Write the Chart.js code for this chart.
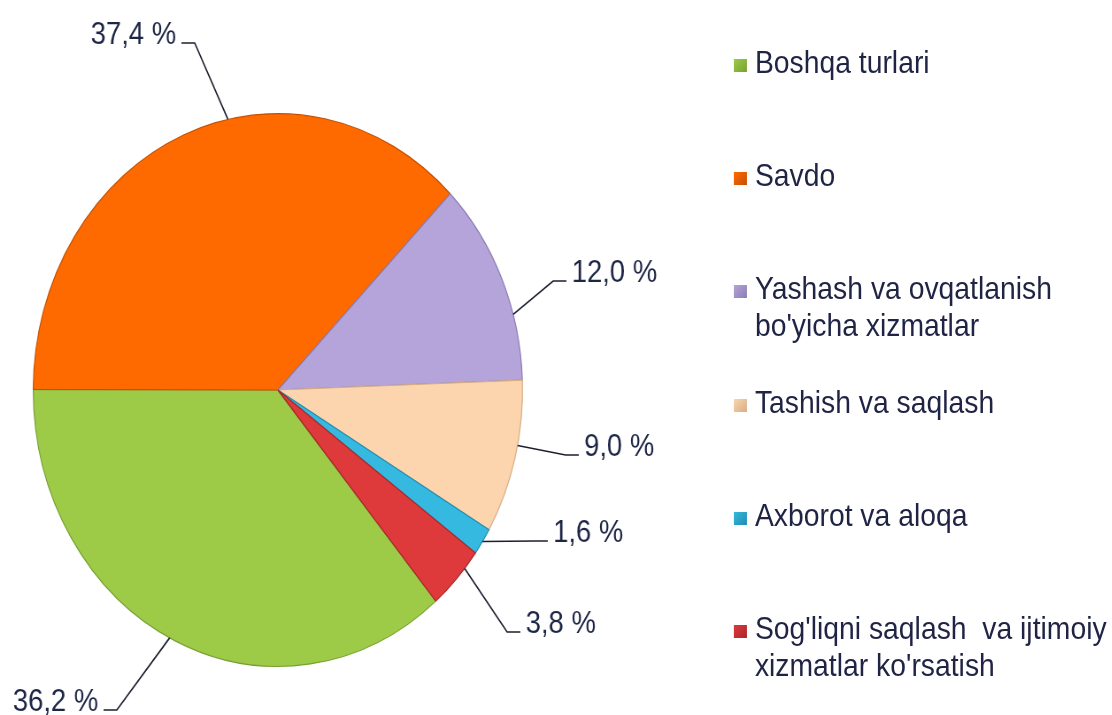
<!DOCTYPE html>
<html>
<head>
<meta charset="utf-8">
<script src="https://cdn.jsdelivr.net/npm/chart.js@4.4.1/dist/chart.umd.min.js"></script>
<style>
  html, body { margin: 0; padding: 0; background: #fff; }
  body { width: 1112px; height: 715px; overflow: hidden; }
  /* the reference is squeezed sideways, so draw wider and compress */
  #wrap {
    position: absolute; left: 0; top: 0;
    width: 1257px; height: 715px;
    transform: scaleX(0.885); transform-origin: 0 0;
  }
  #wrap canvas { position: absolute; left: 0; top: 0; }
  #legend {
    position: absolute; left: 828px; top: 44px;
    font-family: "Liberation Sans", Arial, sans-serif;
    font-size: 32px; line-height: 37px; color: #1f2444;
  }
  .item { position: absolute; left: 0; white-space: pre; }
  .box { position: absolute; left: 1px; top: 15px; width: 15px; height: 13px; }
  .txt { position: absolute; left: 25px; top: 0; }
</style>
</head>
<body>
<div id="wrap">
  <canvas id="chart1"></canvas>
  <div id="legend"></div>
</div>
<script>
var labels = [
  ["Boshqa turlari"],
  ["Savdo"],
  ["Yashash va ovqatlanish", "bo'yicha xizmatlar"],
  ["Tashish va saqlash"],
  ["Axborot va aloqa"],
  ["Sog'liqni saqlash  va ijtimoiy", "xizmatlar ko'rsatish"]
];
var values = [36.2, 37.4, 12.0, 9.0, 1.6, 3.8];

var colors = ['#9dcb48', '#ff6a00', '#b4a4d9', '#fcd5ae', '#36b9e0', '#de3a3c'];
var edges  = ['#78a031', '#c65000', '#8d7db5', '#d6ad85', '#1f8db0', '#a82729'];

// where the leader leaves each slice (fraction of the arc) and where its elbow sits
// relative to the pie centre; side: -1 label to the left, 1 to the right
var leaderAt = [0.51, 0.58, 0.68, 0.42, 0.5, 0.3];
var elbows = [[-182, 320], [-94, -347], [311, -109], [325, 65], [290, 151], [259, 242]];
var sides = [-1, -1, 1, 1, 1, 1];

var pieLabels = {
  id: 'pieLabels',
  afterDatasetsDraw: function (chart) {
    var ctx = chart.ctx;
    var meta = chart.getDatasetMeta(0);
    ctx.save();
    ctx.strokeStyle = '#1c1f2e';
    ctx.lineWidth = 1.6;
    ctx.fillStyle = '#1e2646';
    ctx.font = '31px "Liberation Sans", Arial, sans-serif';
    ctx.textBaseline = 'alphabetic';
    meta.data.forEach(function (arc, i) {
      var p = arc.getProps(['x', 'y', 'startAngle', 'endAngle', 'outerRadius'], true);
      var a = p.startAngle + leaderAt[i] * (p.endAngle - p.startAngle);
      var ax = p.x + Math.cos(a) * p.outerRadius;
      var ay = p.y + Math.sin(a) * p.outerRadius;
      var ex = p.x + elbows[i][0];
      var ey = p.y + elbows[i][1];
      var tx = ex + sides[i] * 15;
      ctx.beginPath();
      ctx.moveTo(ax, ay);
      ctx.lineTo(ex, ey);
      ctx.lineTo(tx, ey);
      ctx.stroke();
      ctx.textAlign = sides[i] < 0 ? 'right' : 'left';
      var txt = values[i].toFixed(1).replace('.', ',') + ' %';
      ctx.fillText(txt, tx + sides[i] * 6, ey + 1);
    });
    ctx.restore();
  }
};

var ctx = document.getElementById('chart1');
var myChart = new Chart(ctx, {
  type: 'pie',
  data: {
    labels: labels.map(function (l) { return l.join(' '); }),
    datasets: [{
      data: values,
      backgroundColor: colors,
      borderColor: edges,
      borderWidth: 1.2
    }]
  },
  options: {
    responsive: true,
    maintainAspectRatio: false,
    animation: false,
    rotation: 139.8,
    layout: { padding: { left: 37, top: 113, right: 666, bottom: 48 } },
    plugins: {
      legend: { display: false },
      tooltip: { enabled: false }
    }
  },
  plugins: [pieLabels]
});

// legend as html, one row per category
var legend = document.getElementById('legend');
for (let i = 0; i < labels.length; i++) {
  let item = document.createElement('div');
  item.className = 'item';
  item.style.top = (i * 113.2) + 'px';
  item.innerHTML = `<div class="box" style="background: linear-gradient(135deg, ${colors[i]}, ${edges[i]});"></div><div class="txt">${labels[i].join('\n')}</div>`;
  legend.appendChild(item);
}
</script>
</body>
</html>
